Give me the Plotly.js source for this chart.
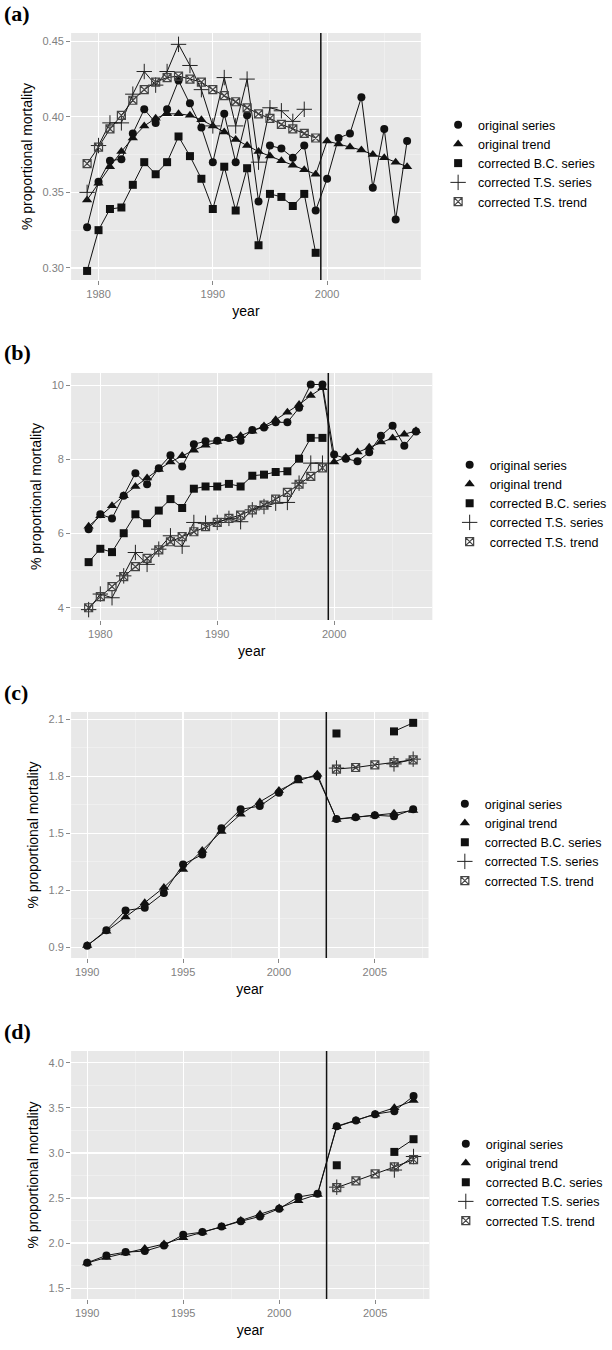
<!DOCTYPE html>
<html>
<head>
<meta charset="utf-8">
<script src="https://cdn.plot.ly/plotly-3.0.1.min.js"></script>
<style>body{margin:0;background:#fff}#chart{width:612px;height:1350px}</style>
</head>
<body>
<div id="chart"></div>
<script>
// panel (a) and (b): 1979-2007
const yearsAB = [1979,1980,1981,1982,1983,1984,1985,1986,1987,1988,1989,1990,1991,1992,1993,1994,1995,1996,1997,1998,1999,2000,2001,2002,2003,2004,2005,2006,2007];
// panel (c) and (d): 1990-2007
const yearsCD = [1990,1991,1992,1993,1994,1995,1996,1997,1998,1999,2000,2001,2002,2003,2004,2005,2006,2007];

const aOrigSeries = [0.327,0.357,0.371,0.372,0.389,0.405,0.396,0.405,0.424,0.409,0.393,0.370,0.402,0.370,0.401,0.344,0.381,0.379,0.373,0.381,0.338,0.359,0.386,0.389,0.413,0.353,0.392,0.332,0.384];
const aOrigTrend = [0.345,0.356,0.367,0.377,0.386,0.394,0.399,0.402,0.402,0.401,0.398,0.394,0.390,0.385,0.381,0.377,0.374,0.371,0.368,0.365,0.362,0.384,0.382,0.380,0.378,0.375,0.373,0.370,0.367];
const aBCSeries = [0.298,0.325,0.339,0.340,0.355,0.370,0.362,0.370,0.387,0.374,0.359,0.339,0.367,0.338,0.366,0.315,0.349,0.347,0.341,0.349,0.310];
const aTSSeries = [0.350,0.381,0.396,0.396,0.415,0.430,0.421,0.430,0.448,0.434,0.418,0.394,0.426,0.394,0.425,0.370,0.406,0.404,0.397,0.405];
const aTSTrend = [0.369,0.380,0.392,0.401,0.411,0.418,0.423,0.426,0.427,0.425,0.423,0.418,0.414,0.410,0.406,0.402,0.399,0.395,0.392,0.389,0.386];

const bOrigSeries = [6.12,6.52,6.41,7.02,7.63,7.33,7.76,8.11,7.81,8.41,8.49,8.50,8.58,8.50,8.79,8.86,9.00,9.00,9.39,10.02,10.02,8.13,8.02,7.95,8.19,8.64,8.91,8.37,8.75];
const bOrigTrend = [6.20,6.48,6.75,7.02,7.27,7.50,7.73,7.93,8.10,8.25,8.38,8.48,8.56,8.64,8.76,8.90,9.07,9.27,9.48,9.72,9.93,7.93,8.06,8.20,8.33,8.47,8.58,8.68,8.77];
const bBCSeries = [5.23,5.59,5.50,6.01,6.52,6.28,6.62,6.93,6.69,7.21,7.27,7.27,7.34,7.27,7.56,7.59,7.66,7.68,8.02,8.58,8.58];
const bTSSeries = [3.95,4.37,4.27,4.86,5.49,5.17,5.58,5.94,5.66,6.30,6.28,6.30,6.41,6.32,6.64,6.73,6.82,6.84,7.36,7.90,7.90];
const bTSTrend = [4.00,4.30,4.57,4.84,5.11,5.33,5.56,5.78,5.92,6.05,6.19,6.30,6.41,6.50,6.64,6.77,6.93,7.11,7.33,7.54,7.77];

const cOrigSeries = [0.909,0.990,1.094,1.108,1.186,1.336,1.388,1.527,1.626,1.643,1.713,1.787,1.800,1.575,1.585,1.595,1.589,1.626];
const cOrigTrend = [0.910,0.985,1.060,1.135,1.215,1.310,1.410,1.510,1.600,1.665,1.725,1.775,1.810,1.573,1.585,1.595,1.605,1.620];
const cBCSeries = [null,null,null,null,null,null,null,null,null,null,null,null,null,2.025,null,null,2.036,2.081];
const cTSSeries = [null,null,null,null,null,null,null,null,null,null,null,null,null,1.843,null,null,1.865,1.890];
const cTSTrend = [null,null,null,null,null,null,null,null,null,null,null,null,null,1.838,1.846,1.860,1.872,1.886];

const dOrigSeries = [1.782,1.863,1.900,1.911,1.974,2.093,2.122,2.185,2.241,2.296,2.381,2.511,2.548,3.296,3.360,3.430,3.463,3.630];
const dOrigTrend = [1.780,1.840,1.890,1.940,1.990,2.060,2.120,2.180,2.250,2.320,2.390,2.470,2.540,3.290,3.360,3.430,3.500,3.580];
const dBCSeries = [null,null,null,null,null,null,null,null,null,null,null,null,null,2.863,null,null,3.011,3.152];
const dTSSeries = [null,null,null,null,null,null,null,null,null,null,null,null,null,2.620,null,null,2.810,2.960];
const dTSTrend = [null,null,null,null,null,null,null,null,null,null,null,null,null,2.615,2.689,2.767,2.844,2.926];

const seriesNames = ['original series','original trend','corrected B.C. series','corrected T.S. series','corrected T.S. trend'];
const breakYears = [1999.45, 1999.5, 2002.47, 2002.47];

const W = 612, H = 1350;
const markers = [
    {symbol: 'circle', size: 8, color: '#111'},
    {symbol: 'triangle-up', size: 9, color: '#111'},
    {symbol: 'square', size: 8, color: '#111'},
    {symbol: 'cross-thin-open', size: 11, color: '#222', line: {width: 1, color: '#222'}},
    {symbol: 'square-x-open', size: 8, color: '#444', line: {width: 1.2, color: '#444'}}
];

const panels = [
    {x: yearsAB, ys: [aOrigSeries, aOrigTrend, aBCSeries, aTSSeries, aTSTrend], top: 33, bottom: 280, right: 438,
     xr: [1977.6, 2008.2], yr: [0.292, 0.4555], yt: [0.30, 0.35, 0.40, 0.45], yfmt: '.2f', xt: [1980, 1990, 2000], minor: 5, ymin: 0.025, leg: [456, 110], label: '(a)'},
    {x: yearsAB, ys: [bOrigSeries, bOrigTrend, bBCSeries, bTSSeries, bTSTrend], top: 373, bottom: 620, right: 450,
     xr: [1977.5, 2008.4], yr: [3.67, 10.33], yt: [4, 6, 8, 10], yfmt: 'd', xt: [1980, 1990, 2000], minor: 5, ymin: 1, leg: [468, 450], label: '(b)'},
    {x: yearsCD, ys: [cOrigSeries, cOrigTrend, cBCSeries, cTSSeries, cTSTrend], top: 712, bottom: 958, right: 446,
     xr: [1989.16, 2007.8], yr: [0.844, 2.138], yt: [0.9, 1.2, 1.5, 1.8, 2.1], yfmt: '.1f', xt: [1990, 1995, 2000, 2005], minor: 2.5, ymin: 0.15, leg: [463, 789], label: '(c)'},
    {x: yearsCD, ys: [dOrigSeries, dOrigTrend, dBCSeries, dTSSeries, dTSTrend], top: 1051, bottom: 1299, right: 447,
     xr: [1989.16, 2007.83], yr: [1.38, 4.13], yt: [1.5, 2.0, 2.5, 3.0, 3.5, 4.0], yfmt: '.1f', xt: [1990, 1995, 2000, 2005], minor: 2.5, ymin: 0.25, leg: [464, 1129], label: '(d)'}
];

const traces = [];
const layout = {
    width: W, height: H,
    margin: {l: 0, r: 0, t: 0, b: 0},
    paper_bgcolor: '#fff',
    plot_bgcolor: '#e8e8e8',
    font: {family: 'Liberation Sans, Arial, sans-serif', color: '#000'},
    showlegend: true,
    shapes: [],
    annotations: []
};

panels.forEach((p, i) => {
    const n = i + 1;
    const sfx = n === 1 ? '' : String(n);
    const legName = 'legend' + sfx;
    p.ys.forEach((y, k) => {
        // drawn series (lines + markers), kept out of the legend
        traces.push({
            x: p.x.slice(0, y.length), y: y,
            name: seriesNames[k], showlegend: false,
            type: 'scatter', mode: 'lines+markers',
            xaxis: 'x' + sfx, yaxis: 'y' + sfx,
            line: {color: '#111', width: 1},
            marker: markers[k],
            connectgaps: false,
            cliponaxis: false
        });
    });
    p.ys.forEach((y, k) => {
        // legend key: markers only
        traces.push({
            x: [null], y: [null],
            name: seriesNames[k],
            type: 'scatter', mode: 'markers',
            xaxis: 'x' + sfx, yaxis: 'y' + sfx,
            legend: legName,
            marker: markers[k]
        });
    });
    layout['xaxis' + sfx] = {
        domain: [74 / W, p.right / W], anchor: 'y' + sfx,
        range: p.xr, tickvals: p.xt, ticks: 'outside', ticklen: 4, tickcolor: '#888',
        tickfont: {size: 11, color: '#7f7f7f'},
        showgrid: true, gridcolor: '#fff', gridwidth: 1.2, zeroline: false, showline: false,
        minor: {dtick: p.minor, tick0: p.xt[0], showgrid: true, gridcolor: '#f4f4f4', gridwidth: 0.6},
        title: {text: 'year', font: {size: 14}, standoff: 6}
    };
    layout['yaxis' + sfx] = {
        domain: [1 - p.bottom / H, 1 - p.top / H], anchor: 'x' + sfx,
        range: p.yr, tickvals: p.yt, tickformat: p.yfmt, ticks: 'outside', ticklen: 4, tickcolor: '#888',
        tickfont: {size: 11, color: '#7f7f7f'},
        showgrid: true, gridcolor: '#fff', gridwidth: 1.2, zeroline: false, showline: false,
        minor: {dtick: p.ymin, tick0: p.yt[0], showgrid: true, gridcolor: '#f4f4f4', gridwidth: 0.6},
        title: {text: '% proportional mortality', font: {size: 14}, standoff: 6}
    };
    layout[legName] = {
        x: p.leg[0] / W, y: 1 - p.leg[1] / H, xanchor: 'left', yanchor: 'top',
        bgcolor: 'rgba(0,0,0,0)', font: {size: 12.5}, tracegroupgap: 0, itemwidth: 30
    };
    layout.shapes.push({
        type: 'line', xref: 'x' + sfx, yref: 'y' + sfx + ' domain',
        x0: breakYears[i], x1: breakYears[i], y0: 0, y1: 1,
        line: {color: '#111', width: 1.5}
    });
    layout.annotations.push({
        text: '<b>' + p.label + '</b>', xref: 'paper', yref: 'paper',
        x: 2 / W, y: 1 - (p.top - 20) / H, xanchor: 'left', yanchor: 'middle', showarrow: false,
        font: {family: 'Liberation Serif, Times New Roman, serif', size: 22, color: '#000'}
    });
});

Plotly.newPlot('chart', traces, layout, {staticPlot: true});
</script>
</body>
</html>
